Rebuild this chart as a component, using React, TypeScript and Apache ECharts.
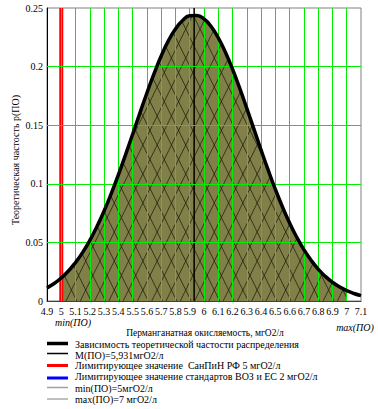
import React, { useEffect, useRef } from "react";
import * as echarts from "echarts";

// Curve: theoretical frequency p(ПО) (x step 0.05)
const curveX = [
  4.9, 4.95, 5.0, 5.05, 5.1, 5.15, 5.2, 5.25, 5.3, 5.35, 5.4, 5.45, 5.5, 5.55, 5.6, 5.65, 5.7, 5.75,
  5.8, 5.85, 5.9, 5.95, 6.0, 6.05, 6.1, 6.15, 6.2, 6.25, 6.3, 6.35, 6.4, 6.45, 6.5, 6.55, 6.6, 6.65,
  6.7, 6.75, 6.8, 6.85, 6.9, 6.95, 7.0, 7.05, 7.1,
];
const curveY = [
  0.0112, 0.0149, 0.0197, 0.0256, 0.0329, 0.0415, 0.0517, 0.0635, 0.0768, 0.0916, 0.1076, 0.1247,
  0.1423, 0.1601, 0.1775, 0.194, 0.209, 0.2219, 0.2321, 0.2394, 0.2433, 0.2437, 0.2407, 0.2342,
  0.2246, 0.2123, 0.1978, 0.1816, 0.1643, 0.1466, 0.1288, 0.1116, 0.0953, 0.0802, 0.0665, 0.0544,
  0.0438, 0.0348, 0.0272, 0.021, 0.016, 0.012, 0.0088, 0.0064, 0.0046,
];
const minPO = 5;
const maxPO = 7;
const meanPO = 5.931;
const limitSanPiN = 5;
const xTicks = [4.9, 5.0, 5.1, 5.2, 5.3, 5.4, 5.5, 5.6, 5.7, 5.8, 5.9, 6.0, 6.1, 6.2, 6.3, 6.4, 6.5, 6.6, 6.7, 6.8, 6.9, 7.0, 7.1];
const yTicks = [0, 0.05, 0.1, 0.15, 0.2, 0.25];
const legendTexts = [
  "Зависимость теоретической частости распределения",
  "M(ПО)=5,931мгO2/л",
  "Лимитирующее значение  СанПиН РФ 5 мгO2/л",
  "Лимитирующее значение стандартов ВОЗ и ЕС 2 мгO2/л",
  "min(ПО)=5мгO2/л",
  "max(ПО)=7 мгO2/л",
];

const SERIF = "Liberation Serif, Times New Roman, DejaVu Serif, serif";

function makePattern() {
  const cw = 100;
  const ch = 29;
  const c = document.createElement("canvas");
  c.width = cw;
  c.height = ch;
  const ctx = c.getContext("2d");
  if (!ctx) return "#808048";
  ctx.fillStyle = "#808048";
  ctx.fillRect(0, 0, cw, ch);
  const w = cw / 7;
  ctx.strokeStyle = "rgba(30,30,15,0.75)";
  ctx.lineWidth = 1;
  for (let k = -1; k <= 8; k++) {
    ctx.beginPath();
    ctx.moveTo(k * w, 0);
    ctx.lineTo((k + 1) * w, ch);
    ctx.stroke();
    ctx.beginPath();
    ctx.moveTo((k + 1) * w, 0);
    ctx.lineTo(k * w, ch);
    ctx.stroke();
  }
  return { image: c, repeat: "repeat", imageWidth: cw, imageHeight: ch, x: 47, y: 301 } as any;
}

export default function App() {
  const ref = useRef<HTMLDivElement>(null);
  useEffect(() => {
    document.body.style.margin = "0";
    if (!ref.current) return;
    const chart = echarts.init(ref.current, undefined, { renderer: "svg" });
    const curve = curveX.map((x, i) => [x, curveY[i]]);
    const fill = curve.filter((p) => p[0] >= minPO - 1e-9 && p[0] <= maxPO + 1e-9);
    const gridX = xTicks.filter((v) => v > 4.95 && v < 7.05);
    const gridY = yTicks.filter((v) => v > 0 && v < 0.25);

    const legendY = [343.5, 353.5, 365.5, 378, 387.5, 399];
    const legendLine = [
      { color: "#000", width: 3.5 },
      { color: "#000", width: 1.5 },
      { color: "#ff0000", width: 3 },
      { color: "#0000ff", width: 3 },
      { color: "#a0a0a0", width: 1.5 },
      { color: "#808080", width: 1 },
    ];
    const legendTextY = [344.5, 355, 365.5, 376.5, 388, 399];

    const graphics: any[] = [];
    legendTexts.forEach((t, i) => {
      graphics.push({
        type: "line",
        shape: { x1: 47, y1: legendY[i], x2: 68, y2: legendY[i] },
        style: { stroke: legendLine[i].color, lineWidth: legendLine[i].width },
        silent: true,
      });
      graphics.push({
        type: "text",
        x: 75,
        y: legendTextY[i],
        style: { text: t, fill: "#000", fontFamily: SERIF, fontSize: 10, verticalAlign: "middle", align: "left" },
        silent: true,
      });
    });
    graphics.push({
      type: "text",
      x: 73,
      y: 322,
      style: { text: "min(ПО)", fill: "#000", fontFamily: SERIF, fontStyle: "italic", fontSize: 10, verticalAlign: "middle", align: "center" },
    });
    graphics.push({
      type: "text",
      x: 355,
      y: 327,
      style: { text: "max(ПО)", fill: "#000", fontFamily: SERIF, fontStyle: "italic", fontSize: 10, verticalAlign: "middle", align: "center" },
    });
    graphics.push({
      type: "text",
      x: 205,
      y: 333,
      style: {
        text: "Перманганатная окисляемость, мгO2/л",
        fill: "#000",
        fontFamily: SERIF,
        fontSize: 9.5,
        verticalAlign: "middle",
        align: "center",
      },
    });
    graphics.push({
      type: "text",
      x: 15,
      y: 160,
      rotation: Math.PI / 2,
      style: {
        text: "Теоретическая частость p(ПО)",
        fill: "#000",
        fontFamily: SERIF,
        fontSize: 10,
        verticalAlign: "middle",
        align: "center",
      },
    });

    chart.setOption({
      animation: false,
      grid: {
        left: 47,
        top: 8,
        right: 17,
        bottom: 108,
        show: true,
        borderColor: "#808080",
        borderWidth: 1,
        backgroundColor: "transparent",
      },
      xAxis: {
        type: "value",
        min: 4.9,
        max: 7.1,
        interval: 0.1,
        axisLine: { show: true, onZero: false, lineStyle: { color: "#404040", width: 1 } },
        axisTick: { show: false },
        splitLine: { show: false },
        axisLabel: { color: "#000", fontFamily: SERIF, fontSize: 10, margin: 5 },
      },
      yAxis: {
        type: "value",
        min: 0,
        max: 0.25,
        interval: 0.05,
        axisLine: { show: true, lineStyle: { color: "#000", width: 1 } },
        axisTick: { show: false },
        splitLine: { show: false },
        axisLabel: { color: "#000", fontFamily: SERIF, fontSize: 10, margin: 4 },
      },
      graphic: graphics,
      series: [
        {
          type: "line",
          data: fill,
          z: 2,
          symbol: "none",
          lineStyle: { width: 0 },
          areaStyle: { color: makePattern(), opacity: 1 },
          silent: true,
        },
        {
          type: "line",
          data: [[4.9, 0]],
          z: 3,
          symbol: "none",
          lineStyle: { width: 0, opacity: 0 },
          silent: true,
          markLine: {
            silent: true,
            symbol: ["none", "none"],
            label: { show: false },
            lineStyle: { color: "#00ee00", width: 1, type: "solid" },
            data: [...gridX.map((v) => ({ xAxis: v })), ...gridY.map((v) => ({ yAxis: v }))],
          },
        },
        {
          type: "line",
          data: [
            [limitSanPiN, 0],
            [limitSanPiN, 0.25],
          ],
          z: 4,
          symbol: "none",
          lineStyle: { color: "#ff0000", width: 4 },
          silent: true,
        },
        {
          type: "line",
          data: [
            [meanPO, 0],
            [meanPO, 0.25],
          ],
          z: 4,
          symbol: "none",
          lineStyle: { color: "#000", width: 1.5 },
          silent: true,
        },
        {
          type: "line",
          data: curve,
          z: 5,
          symbol: "none",
          smooth: true,
          lineStyle: { color: "#000", width: 3.5 },
          silent: true,
        },
      ],
    });
    return () => chart.dispose();
  }, []);
  return <div ref={ref} style={{ width: 378, height: 409 }} />;
}
